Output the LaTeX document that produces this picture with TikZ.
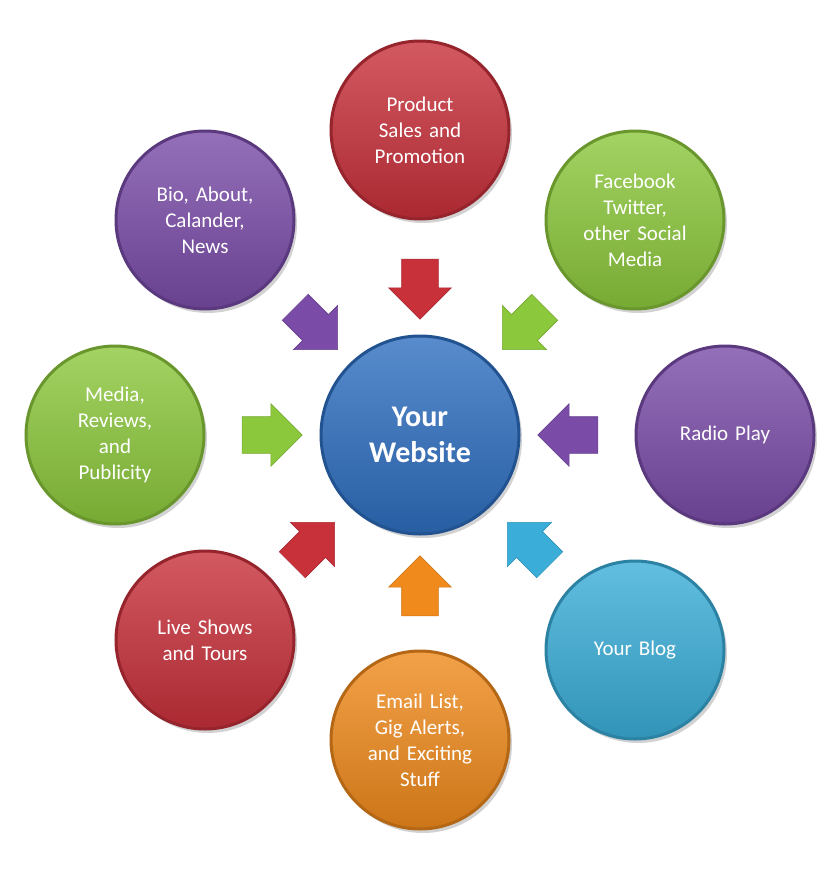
\documentclass[tikz,border=0pt]{standalone}
\usepackage{fontspec}
\setmainfont{Carlito}
\usetikzlibrary{shapes.arrows,shadows}
\definecolor{cred}{HTML}{C8303A}
\definecolor{cpur}{HTML}{7A4CA8}
\definecolor{cgrn}{HTML}{8CC83C}
\definecolor{cblu}{HTML}{2E6FC0}
\definecolor{ccya}{HTML}{3AAED8}
\definecolor{corg}{HTML}{F08A1C}
\tikzset{
 ball/.style={circle,minimum size=178pt,inner sep=0pt,text width=130pt,align=center,
   text=white,font=\fontsize{21}{26}\selectfont,line width=3pt,
   draw=#1!75!black,top color=#1!80!white,bottom color=#1!85!black,
   drop shadow={shadow xshift=3pt,shadow yshift=-4pt,opacity=.35}},
 barrow/.style={single arrow,minimum height=60pt,text height=18pt,text depth=18pt,text width=1pt,
   single arrow head extend=13pt,inner sep=0pt,fill=#1,draw=#1!85!black,line width=.6pt}
}
\begin{document}
\begin{tikzpicture}[x=1pt,y=-1pt]
\useasboundingbox[fill=white] (0,0) rectangle (840,878);
\node[ball=cblu,minimum size=198pt,font=\bfseries\fontsize{30}{36}\selectfont] (c) at (420,435) {Your\\Website};
\node[ball=cred] (p) at (420,130) {Product\\Sales and\\Promotion};
\node[ball=cpur] (b) at (205,220) {Bio, About,\\Calander,\\News};
\node[ball=cgrn] (f) at (635,220) {Facebook\\Twitter,\\other Social\\Media};
\node[ball=cgrn] (m) at (115,435) {Media,\\Reviews,\\and\\Publicity};
\node[ball=cpur] (r) at (725,435) {Radio Play};
\node[ball=cred] (l) at (205,640) {Live Shows\\and Tours};
\node[ball=ccya] (y) at (635,650) {Your Blog};
\node[ball=corg] (e) at (420,740) {Email List,\\Gig Alerts,\\and Exciting\\Stuff};
\node[barrow=cred,rotate=-90] (ap) at (420,280) {};
\node[barrow=cpur,rotate=-45] (ab) at (310,322) {};
\node[barrow=cgrn,rotate=-135] (af) at (530,322) {};
\node[barrow=cgrn] (am) at (263,435) {};
\node[barrow=cpur,rotate=180] (ar) at (577,435) {};
\node[barrow=cred,rotate=45] (al) at (307,550) {};
\node[barrow=ccya,rotate=135] (ay) at (535,550) {};
\node[barrow=corg,rotate=90] (ae) at (420,595) {};
\end{tikzpicture}
\end{document}
